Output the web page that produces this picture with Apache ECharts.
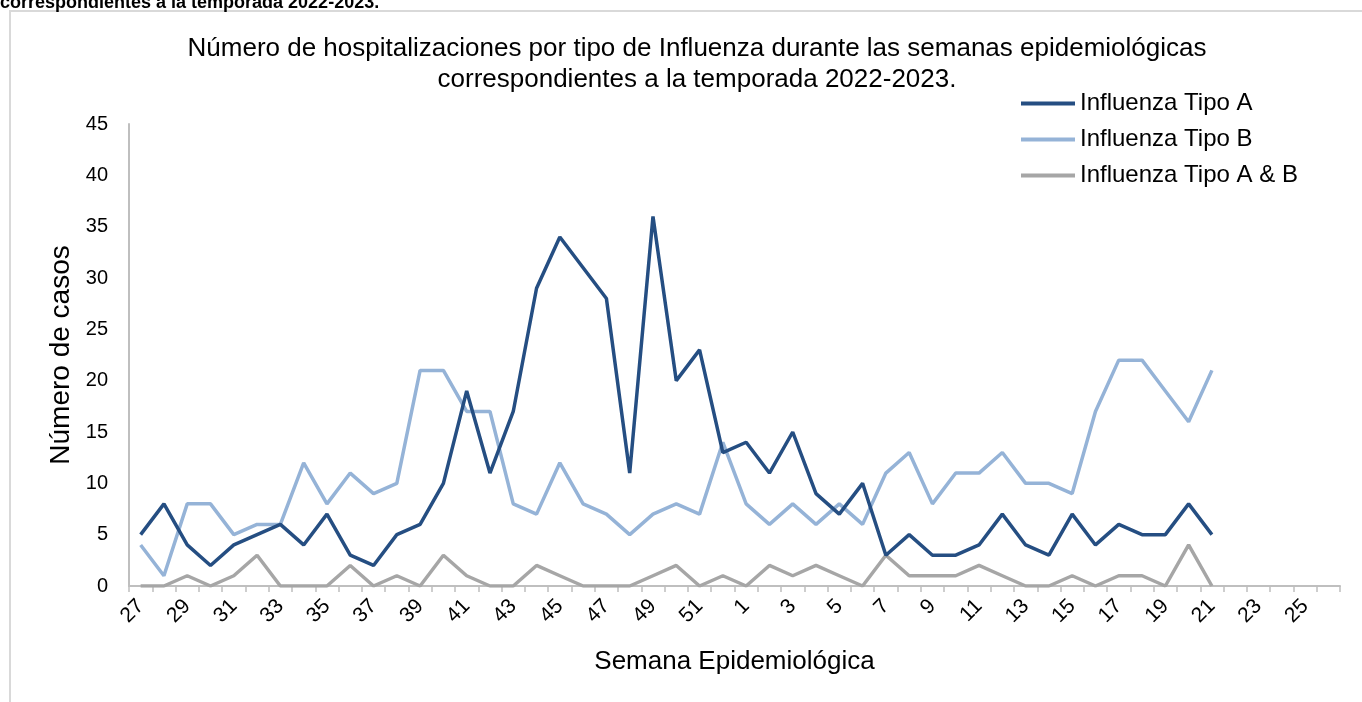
<!DOCTYPE html>
<html>
<head>
<meta charset="utf-8">
<script src="https://cdn.jsdelivr.net/npm/echarts@6/dist/echarts.min.js"></script>
<style>
html,body{margin:0;padding:0;background:#fff;}
#chart{width:1362px;height:702px;}
</style>
</head>
<body>
<div id="chart"></div>
<script>
const weeks = ['27','28','29','30','31','32','33','34','35','36','37','38','39','40','41','42','43','44','45','46','47','48','49','50','51','52',
  '1','2','3','4','5','6','7','8','9','10','11','12','13','14','15','16','17','18','19','20','21','22','23','24','25','26'];
const tipoA = [5,8,4,2,4,5,6,4,7,3,2,5,6,10,19,11,17,29,34,31,28,11,36,20,23,13,
  14,11,15,9,7,10,3,5,3,3,4,7,4,3,7,4,6,5,5,8,5,null,null,null,null,null];
const tipoB = [4,1,8,8,5,6,6,12,8,11,9,10,21,21,17,17,8,7,12,8,7,5,7,8,7,14,
  8,6,8,6,8,6,11,13,8,11,11,13,10,10,9,17,22,22,19,16,21,null,null,null,null,null];
const tipoAB = [0,0,1,0,1,3,0,0,0,2,0,1,0,3,1,0,0,2,1,0,0,0,1,2,0,1,
  0,2,1,2,1,0,3,1,1,1,2,1,0,0,1,0,1,1,0,4,0,null,null,null,null,null];
const seriesNames = ['Influenza Tipo A','Influenza Tipo B','Influenza Tipo A & B'];
const colors = ['#254e82','#95b3d7','#a6a6a6'];

const chart = echarts.init(document.getElementById('chart'), null, {renderer:'canvas'});
const font = 'Liberation Sans, Arial, sans-serif';
chart.setOption({
  animation:false,
  backgroundColor:'#fff',
  textStyle:{fontFamily:font},
  graphic:[
    {type:'rect', shape:{x:10,y:11,width:1400,height:800}, style:{fill:'none',stroke:'#d9d9d9',lineWidth:2}, silent:true},
    {type:'text', x:0, y:3, style:{text:'correspondientes a la temporada 2022-2023.', font:'bold 18px '+font, fill:'#000', textVerticalAlign:'middle'}, silent:true}
  ],
  title:{
    text:'Número de hospitalizaciones por tipo de Influenza durante las semanas epidemiológicas\ncorrespondientes a la temporada 2022-2023.',
    left:692, top:28, textAlign:'center',
    textStyle:{fontSize:26, fontWeight:'normal', color:'#000', lineHeight:31, fontFamily:font}
  },
  legend:{
    orient:'vertical', left:1016, top:85,
    itemWidth:54, itemHeight:4, itemGap:9, icon:'rect',
    textStyle:{fontSize:24, color:'#000', fontFamily:font, padding:[0,0,0,0], lineHeight:27},
    data:seriesNames
  },
  grid:{left:129, right:22, top:124, bottom:116, containLabel:false},
  xAxis:{
    type:'category', data:weeks, boundaryGap:true,
    name:'Semana Epidemiológica', nameLocation:'middle', nameGap:63,
    nameTextStyle:{fontSize:26, color:'#000', fontFamily:font},
    axisLine:{lineStyle:{color:'#bfbfbf', width:2}},
    axisTick:{show:true, interval:0, length:6, lineStyle:{color:'#bfbfbf', width:1.5}},
    axisLabel:{interval:1, rotate:45, fontSize:21, color:'#000', margin:17, fontFamily:font},
    splitLine:{show:false}
  },
  yAxis:{
    type:'value', min:0, max:45, interval:5,
    name:'Número de casos', nameLocation:'middle', nameGap:53,
    nameTextStyle:{fontSize:28, color:'#000', fontFamily:font},
    axisLine:{show:true, lineStyle:{color:'#bfbfbf', width:2}},
    axisTick:{show:false},
    axisLabel:{fontSize:20, color:'#000', margin:21, fontFamily:font},
    splitLine:{show:false}
  },
  series:[
    {name:seriesNames[0], type:'line', data:tipoA, showSymbol:false, symbol:'none', color:colors[0], lineStyle:{width:3.5, color:colors[0]}, z:4},
    {name:seriesNames[1], type:'line', data:tipoB, showSymbol:false, symbol:'none', color:colors[1], lineStyle:{width:3.5, color:colors[1]}, z:3},
    {name:seriesNames[2], type:'line', data:tipoAB, showSymbol:false, symbol:'none', color:colors[2], lineStyle:{width:3.5, color:colors[2]}, z:2}
  ]
});
</script>
</body>
</html>
